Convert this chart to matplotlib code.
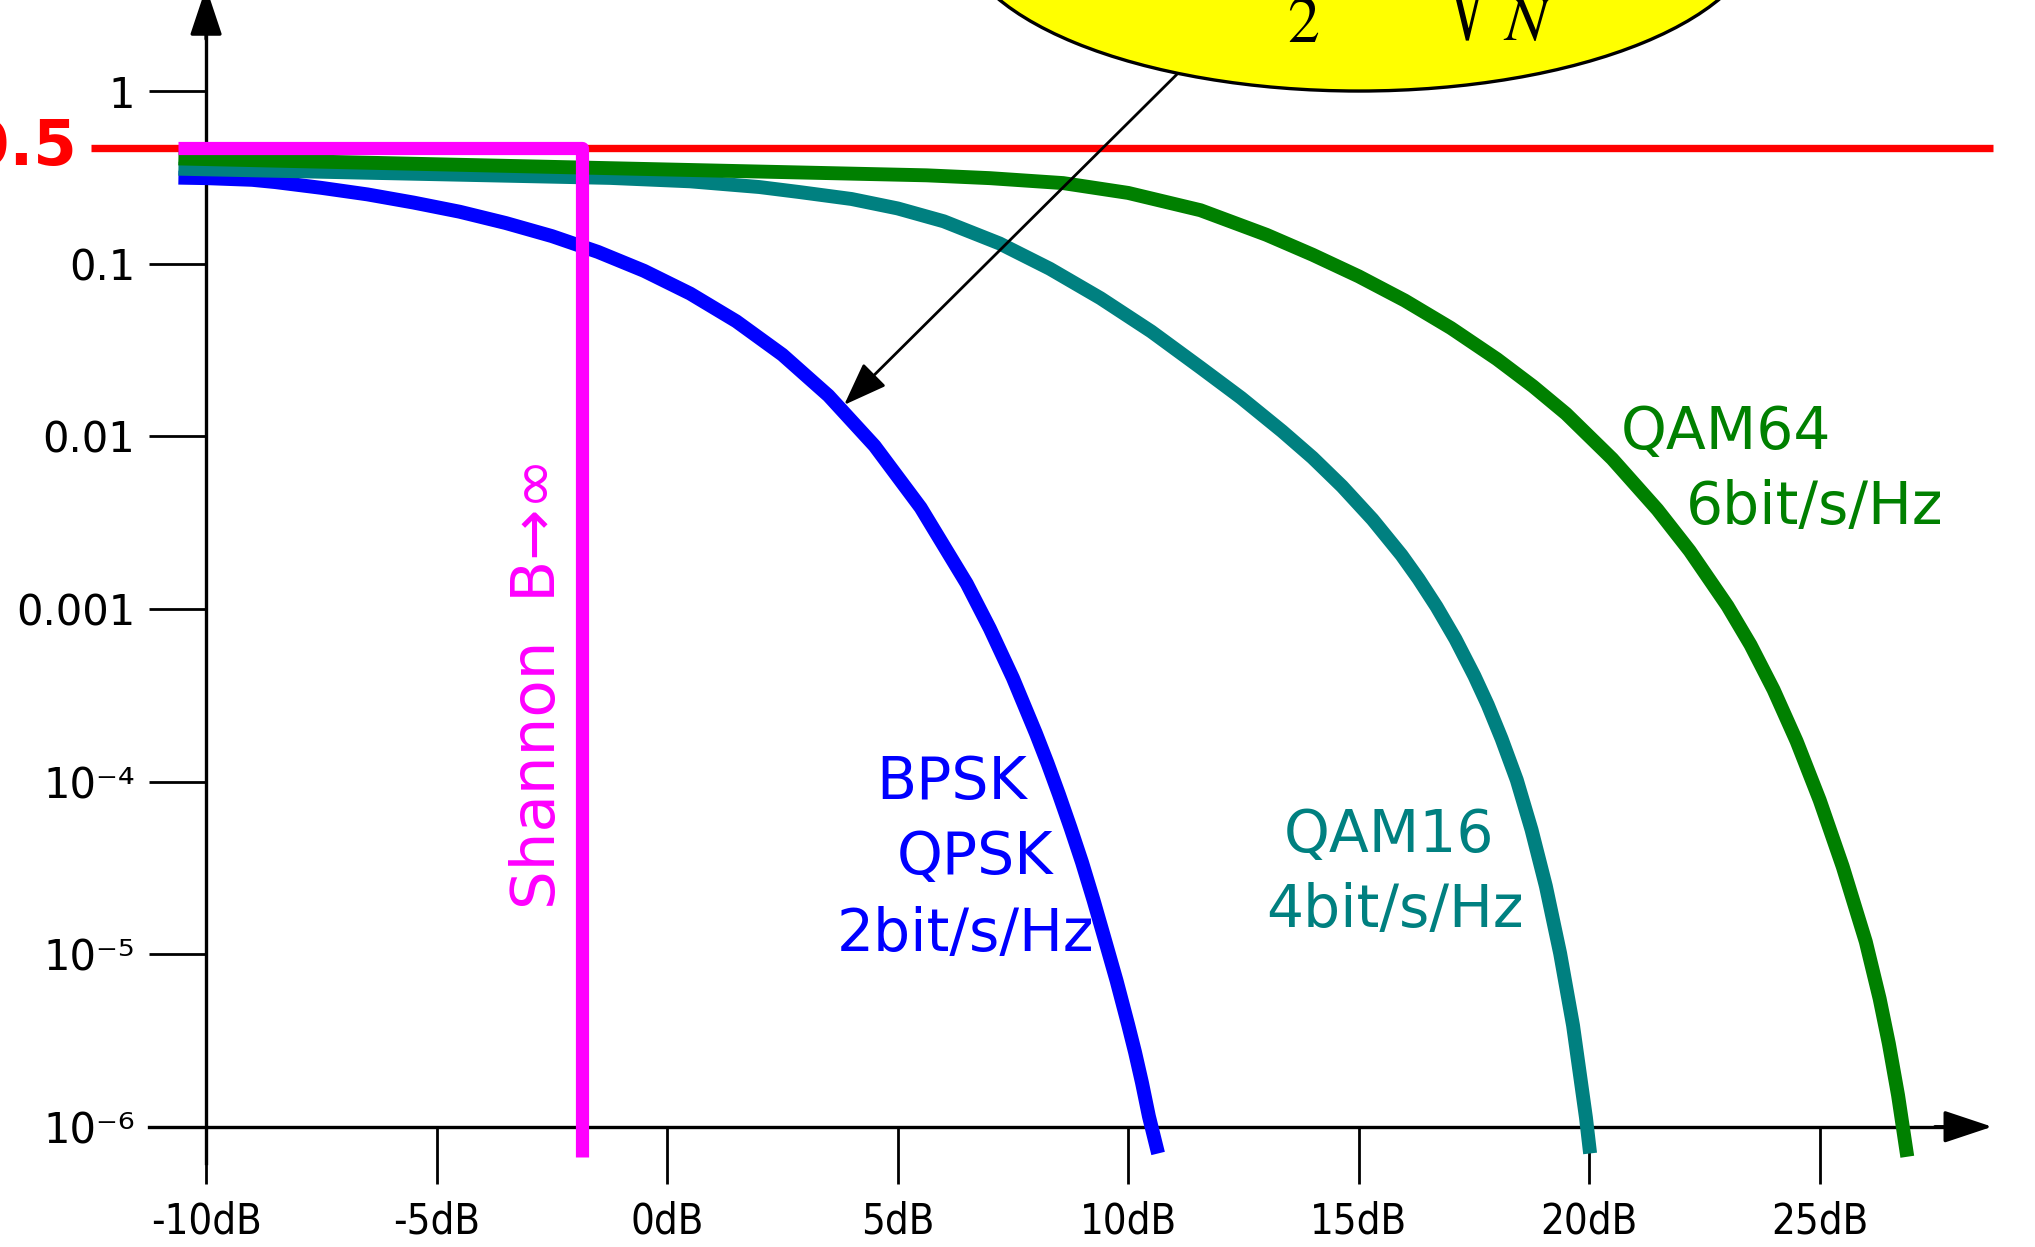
import matplotlib
matplotlib.use('Agg')
import matplotlib.pyplot as plt
from matplotlib.patches import Ellipse
from matplotlib.ticker import NullLocator
from matplotlib import font_manager as fm

# signal to noise ratio (dB) and bit error rate
bpsk_db = [-10.6, -10, -9, -8.5, -7.5, -6.5, -5.5, -4.5, -3.5, -2.5, -1.5, -0.5, 0.5,
           1.5, 2.5, 3.5, 4.5, 5.5, 6.5, 7, 7.5, 8, 8.25, 8.5, 8.75, 9, 9.25, 9.5,
           9.75, 10, 10.15, 10.3, 10.45, 10.65]
bpsk_ber = [0.315, 0.313, 0.306, 0.297, 0.275, 0.252, 0.226, 0.2, 0.172, 0.1445, 0.117,
            0.0909, 0.0671, 0.0464, 0.0297, 0.0172, 0.0088, 0.00386, 0.0014, 7.7e-4,
            3.98e-4, 1.9e-4, 1.28e-4, 8.4e-5, 5.4e-5, 3.4e-5, 2.05e-5, 1.2e-5, 7.0e-6,
            3.9e-6, 2.7e-6, 1.8e-6, 1.15e-6, 7.0e-7]

qam16_db = [-10.6, -1.24, 0.5, 2.0, 2.87, 4.0, 5.0, 6.0, 7.21, 8.3, 9.4, 10.5, 11.57,
            12.45, 13.34, 14.0, 14.64, 15.3, 15.93, 16.3, 16.69, 17.1, 17.51, 17.8, 18.1,
            18.43, 18.75, 19.06, 19.37, 19.65, 19.93, 20.02]
qam16_ber = [0.355, 0.314, 0.3, 0.278, 0.26, 0.237, 0.209, 0.176, 0.131, 0.0935, 0.0631,
             0.0405, 0.025, 0.0167, 0.0107, 0.00752, 0.00513, 0.0033, 0.00205, 0.00149,
             0.00103, 6.68e-4, 4.09e-4, 2.78e-4, 1.77e-4, 1.02e-4, 5.25e-5, 2.48e-5,
             1.01e-5, 3.86e-6, 1.13e-6, 7.0e-7]

qam64_db = [-10.6, 5.63, 7.0, 8.59, 10.0, 11.57, 13, 14, 15, 16, 17, 18, 18.78, 19.5,
            20.5, 21.48, 22.18, 23, 23.5, 24, 24.5, 25, 25.5, 26, 26.3, 26.5, 26.7, 26.9]
qam64_ber = [0.407, 0.325, 0.313, 0.293, 0.257, 0.204, 0.147, 0.1127, 0.0845, 0.0612,
             0.0424, 0.028, 0.0195, 0.0135, 0.0074, 0.00376, 0.00217, 0.00104, 6.19e-4,
             3.4e-4, 1.71e-4, 7.8e-5, 3.21e-5, 1.18e-5, 5.52e-6, 3.03e-6, 1.52e-6, 6.7e-7]

shannon_db = -1.85
ref_level = 0.47   # the "0.5" line as it sits on the log axis

x_ticks = [-10, -5, 0, 5, 10, 15, 20, 25]
x_labels = ['-10dB', '-5dB', '0dB', '5dB', '10dB', '15dB', '20dB', '25dB']
y_ticks = [1, 0.1, 0.01, 0.001, 1e-4, 1e-5, 1e-6]
y_labels = ['1', '0.1', '0.01', '0.001', '10⁻⁴', '10⁻⁵', '10⁻⁶']

BLUE = '#0000ff'
TEAL = '#008080'
GREEN = '#008000'
MAGENTA = '#ff00ff'
RED = '#ff0000'
CURVE_LW = 10

fig = plt.figure(figsize=(20.35, 12.47), dpi=100)
ax = fig.add_axes([0, 0, 1, 1])
ax.set_yscale('log')
ax.set_xlim(-14.47, 29.67)
ax.set_ylim(2.01e-7, 3.37)
ax.patch.set_visible(False)

# axes through (-10dB, 1e-6) with arrow heads
for side in ['top', 'right']:
    ax.spines[side].set_visible(False)
ax.spines['left'].set_position(('data', -10))
ax.spines['bottom'].set_position(('data', 1e-6))
ax.spines['left'].set_bounds(6.2e-7, 2.4)
ax.spines['bottom'].set_bounds(-11.24, 27.9)
for side in ['left', 'bottom']:
    ax.spines[side].set_linewidth(2.4)
arrow = dict(arrowstyle='-|>,head_length=30,head_width=10', mutation_scale=1,
             color='black', lw=2.4, shrinkA=0, shrinkB=0)
ax.annotate('', xy=(-10, 4.0), xytext=(-10, 2.0), arrowprops=arrow, annotation_clip=False)
ax.annotate('', xy=(28.74, 1e-6), xytext=(27.5, 1e-6), arrowprops=arrow, annotation_clip=False)

ax.set_xticks(x_ticks, x_labels)
ax.set_yticks(y_ticks, y_labels)
ax.yaxis.set_minor_locator(NullLocator())
ax.tick_params(axis='both', direction='out', length=41, width=2.0, color='black')
ax.tick_params(axis='y', labelsize=30, pad=10)
ax.tick_params(axis='x', labelsize=30, pad=12)

# narrow face for the dB labels
names = ['DejaVuSansCondensed.ttf', 'RobotoCondensed-Regular.ttf',
         'LiberationSansNarrow-Regular.ttf']
cond = [f.fname for n in names for f in fm.fontManager.ttflist if f.fname.endswith(n)]
if cond:
    xfont = fm.FontProperties(fname=cond[0], size=30)
else:
    xfont = fm.FontProperties(family='Roboto', size=31)
for lbl in ax.get_xticklabels():
    lbl.set_fontproperties(xfont)

# 0.5 reference line
ax.hlines(ref_level, -12.5, 28.75, color=RED, lw=5.3, zorder=2)
ax.text(-12.8, ref_level, '0.5', color=RED, fontsize=45, fontweight='bold',
        ha='right', va='center')

# error rate curves
ax.plot(bpsk_db, bpsk_ber, color=BLUE, lw=CURVE_LW, solid_capstyle='butt', zorder=3)
ax.plot(qam16_db, qam16_ber, color=TEAL, lw=CURVE_LW, solid_capstyle='butt', zorder=3)
ax.plot(qam64_db, qam64_ber, color=GREEN, lw=CURVE_LW, solid_capstyle='butt', zorder=3)

# Shannon limit
ax.plot([-10.6, shannon_db, shannon_db], [ref_level, ref_level, 6.7e-7], color=MAGENTA,
        lw=9.5, solid_capstyle='butt', solid_joinstyle='round', zorder=4)
ax.text(-2.79, 3.7e-4, 'Shannon  B→∞', color=MAGENTA, fontsize=44, rotation=90,
        ha='center', va='center')

# labels
ax.text(6.17, 7.9e-5, 'BPSK', color=BLUE, fontsize=42, ha='center', va='baseline')
ax.text(6.67, 2.9e-5, 'QPSK', color=BLUE, fontsize=42, ha='center', va='baseline')
ax.text(6.48, 1.04e-5, '2bit/s/Hz', color=BLUE, fontsize=42, ha='center', va='baseline')
ax.text(15.65, 3.9e-5, 'QAM16', color=TEAL, fontsize=42, ha='center', va='baseline')
ax.text(15.79, 1.44e-5, '4bit/s/Hz', color=TEAL, fontsize=42, ha='center', va='baseline')
ax.text(22.97, 8.4e-3, 'QAM64', color=GREEN, fontsize=42, ha='center', va='baseline')
ax.text(24.89, 3.09e-3, '6bit/s/Hz', color=GREEN, fontsize=42, ha='center', va='baseline')

# formula bubble (cut off by the top edge) with arrow to the BPSK curve
ax.annotate('', xy=(3.84, 0.0152), xytext=(11.3, 1.45),
            arrowprops=dict(arrowstyle='-|>,head_length=27,head_width=10', mutation_scale=1,
                            color='black', lw=2.0, shrinkA=0, shrinkB=0),
            annotation_clip=False, zorder=5)
bubble = Ellipse((0.6678, 1.0593), 0.395, 0.2646, transform=fig.transFigure,
                 facecolor='#ffff00', edgecolor='black', lw=2.4, zorder=6, clip_on=False)
fig.patches.append(bubble)
fig.text(0.6325, 0.9639, r'$\dfrac{1}{2}\qquad\;\,\sqrt{\dfrac{E}{N}}$',
         math_fontfamily='stix', fontsize=46, ha='left', va='bottom', zorder=7)

fig.savefig('out.png', dpi=100, facecolor='white')
